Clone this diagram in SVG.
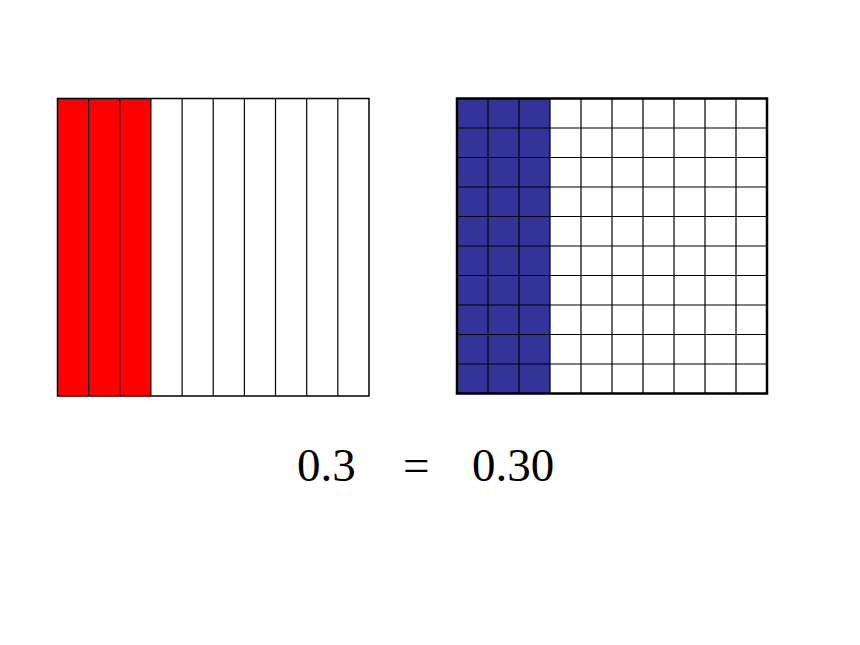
<svg xmlns="http://www.w3.org/2000/svg" width="860" height="645" viewBox="0 0 860 645">
<style>
.g{stroke:#000;stroke-width:1.2;fill:none}
.t{font-family:"Liberation Serif",serif;font-size:47px;fill:#000}
</style>
<rect width="860" height="645" fill="#fff"/>
<g id="tenths">
<rect x="57.5" y="98.5" width="93.3" height="297.5" fill="#ff0000"/>
<rect x="57.5" y="98.5" width="311.5" height="297.5" class="g" style="stroke-width:1.5"/>
<path class="g" d="M88.6 98.5V396M119.8 98.5V396M150.9 98.5V396M182.1 98.5V396M213.2 98.5V396M244.4 98.5V396M275.5 98.5V396M306.7 98.5V396M337.8 98.5V396"/>
</g>
<g id="hundredths">
<rect x="457" y="98.5" width="93" height="295" fill="#333399"/>
<path class="g" d="M488 98.5V393.5M519 98.5V393.5M550 98.5V393.5M581 98.5V393.5M612 98.5V393.5M643 98.5V393.5M674 98.5V393.5M705 98.5V393.5M736 98.5V393.5"/>
<path class="g" d="M457 128H767M457 157.5H767M457 187H767M457 216.5H767M457 246H767M457 275.5H767M457 305H767M457 334.5H767M457 364H767"/>
<rect x="457" y="98.5" width="310" height="295" class="g" style="stroke-width:2.5"/>
</g>
<g id="equation">
<text class="t" x="297" y="481">0.3</text>
<text class="t" x="403" y="481">=</text>
<text class="t" x="472" y="481">0.30</text>
</g>
</svg>
